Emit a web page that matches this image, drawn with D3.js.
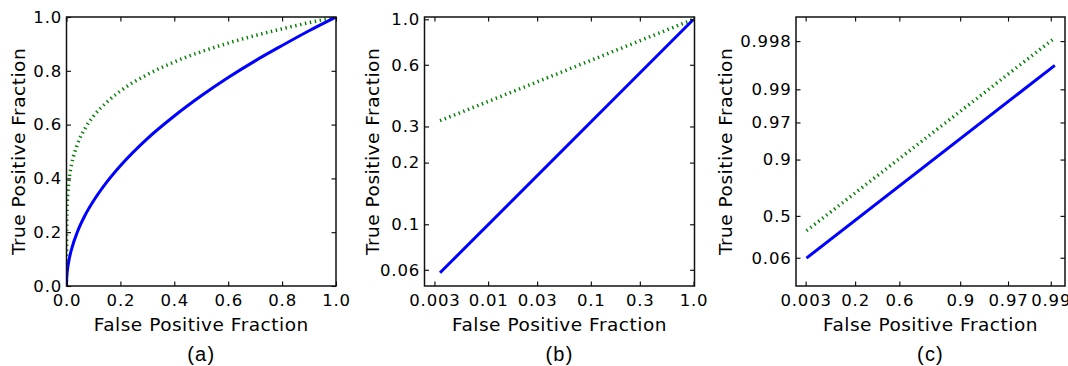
<!DOCTYPE html>
<html>
<head>
<meta charset="utf-8">
<script src="https://cdn.jsdelivr.net/npm/d3@7/dist/d3.min.js"></script>
<style>
  html, body { margin: 0; padding: 0; background: #fff; }
  svg { display: block; }
  .tick text { font-family: "DejaVu Sans", sans-serif; font-size: 16.5px; letter-spacing: 0.8px; fill: #000; }
  .axlabel { font-family: "DejaVu Sans", sans-serif; font-size: 18.5px; letter-spacing: 0.5px; fill: #000; }
  .panel-label { font-family: "Liberation Sans", Arial, sans-serif; font-size: 20px; letter-spacing: 1.2px; fill: #000; }
</style>
</head>
<body>
<svg id="chart" width="1068" height="366"></svg>
<script>
// ---------- data ----------
// Panel (a): linear ROC curves
const fpfA       = [0, 0.0005, 0.002, 0.005, 0.01, 0.02, 0.04, 0.07, 0.1, 0.15, 0.2, 0.3, 0.4, 0.5, 0.6, 0.7, 0.8, 0.9, 1.0];
const tpfBlueA   = [0, 0.022, 0.045, 0.071, 0.100, 0.141, 0.200, 0.265, 0.316, 0.387, 0.447, 0.548, 0.632, 0.707, 0.775, 0.837, 0.894, 0.949, 1.0];
const tpfGreenA  = [0, 0.218, 0.289, 0.347, 0.398, 0.457, 0.525, 0.588, 0.631, 0.684, 0.725, 0.786, 0.833, 0.871, 0.903, 0.931, 0.956, 0.979, 1.0];
const xTicksA = [0, 0.2, 0.4, 0.6, 0.8, 1.0];
const xTickLabelsA = ["0.0", "0.2", "0.4", "0.6", "0.8", "1.0"];
const yTicksA = [0, 0.2, 0.4, 0.6, 0.8, 1.0];
const yTickLabelsA = ["0.0", "0.2", "0.4", "0.6", "0.8", "1.0"];

// Panels (b) and (c): straight-line segments (end points)
const fpfLine      = [0.0034, 0.991];
const tpfBlueLine  = [0.058, 0.9955];
const tpfGreenLine = [0.32, 0.9982];

// Panel (b): log-log
const xDomainB = [0.0024, 1.022];
const yDomainB = [0.05, 1.026];
const xTicksB = [0.003, 0.01, 0.03, 0.1, 0.3, 1.0];
const xTickLabelsB = ["0.003", "0.01", "0.03", "0.1", "0.3", "1.0"];
const yTicksB = [0.06, 0.1, 0.2, 0.3, 0.6, 1.0];
const yTickLabelsB = ["0.06", "0.1", "0.2", "0.3", "0.6", "1.0"];

// Panel (c): -ln(-ln p) axes (domain in transformed units)
const xDomainC = [-2.01, 4.97];
const yDomainC = [-1.98, 7.02];
const xTicksC = [0.003, 0.2, 0.6, 0.9, 0.97, 0.99];
const xTickLabelsC = ["0.003", "0.2", "0.6", "0.9", "0.97", "0.99"];
const yTicksC = [0.06, 0.5, 0.9, 0.97, 0.99, 0.998];
const yTickLabelsC = ["0.06", "0.5", "0.9", "0.97", "0.99", "0.998"];

const panelLabels = ["(a)", "(b)", "(c)"];
const xTitle = "False Positive Fraction";
const yTitle = "True Positive Fraction";

// ---------- layout ----------
const svg = d3.select("#chart");
const plotTop = 17, plotBottom = 286;
const panels = [
  { x0: 66.5, x1: 336 },
  { x0: 424.5, x1: 694.5 },
  { x0: 796, x1: 1065 }
];
const blue = "#0000ff", green = "#008000";
const dotted = "1.4 3.6";
const tr = p => -Math.log(-Math.log(p)); // transform for panel (c)

function drawPanel(i, xs, ys, xT, xL, yT, yL, seriesList, yLabelX) {
  const P = panels[i];
  const g = svg.append("g");
  const clipId = "clip" + i;
  svg.append("clipPath").attr("id", clipId).append("rect")
    .attr("x", P.x0).attr("y", plotTop).attr("width", P.x1 - P.x0).attr("height", plotBottom - plotTop);

  // series
  const lines = g.append("g").attr("clip-path", `url(#${clipId})`);
  seriesList.forEach(s => {
    const pts = s.x.map((v, k) => [v, s.y[k]]);
    const line = d3.line().x(d => xs.fn(d[0])).y(d => ys.fn(d[1])).curve(s.curve || d3.curveLinear);
    lines.append("path").attr("d", line(pts))
      .attr("fill", "none").attr("stroke", s.color).attr("stroke-width", s.width)
      .attr("stroke-dasharray", s.dash || null).attr("stroke-linecap", "butt");
  });

  // axes (ticks inward, on all four sides)
  const mk = (axisFn, sc, vals, labs, showLabels) =>
    axisFn(sc.scale).tickValues(vals.map(sc.pre)).tickSizeInner(-4.5).tickSizeOuter(0)
      .tickFormat((d, k) => showLabels ? labs[k] : "");
  const bottomAx = g.append("g").attr("transform", `translate(0,${plotBottom})`)
    .call(mk(d3.axisBottom, xs, xT, xL, true).tickPadding(8));
  const topAx = g.append("g").attr("transform", `translate(0,${plotTop})`)
    .call(mk(d3.axisTop, xs, xT, xL, false));
  const leftAx = g.append("g").attr("transform", `translate(${P.x0},0)`)
    .call(mk(d3.axisLeft, ys, yT, yL, true).tickPadding(4.5));
  const rightAx = g.append("g").attr("transform", `translate(${P.x1},0)`)
    .call(mk(d3.axisRight, ys, yT, yL, false));
  [bottomAx, topAx, leftAx, rightAx].forEach(a => {
    a.select(".domain").remove();
    a.selectAll(".tick line").attr("stroke", "#000").attr("stroke-width", 1.1);
    a.attr("font-family", null).attr("font-size", null);
  });

  // frame
  g.append("rect").attr("x", P.x0).attr("y", plotTop)
    .attr("width", P.x1 - P.x0).attr("height", plotBottom - plotTop)
    .attr("fill", "none").attr("stroke", "#111").attr("stroke-width", 1.5);

  const cx = (P.x0 + P.x1) / 2;
  g.append("text").attr("class", "axlabel").attr("x", cx).attr("y", 331)
    .attr("text-anchor", "middle").text(xTitle);
  g.append("text").attr("class", "axlabel")
    .attr("transform", `translate(${yLabelX},${(plotTop + plotBottom) / 2}) rotate(-90)`)
    .attr("text-anchor", "middle").text(yTitle);
  g.append("text").attr("class", "panel-label").attr("x", cx).attr("y", 361)
    .attr("text-anchor", "middle").text(panelLabels[i]);
}

// Panel (a)
{
  const P = panels[0];
  const x = d3.scaleLinear().domain([0, 1]).range([P.x0, P.x1]);
  const y = d3.scaleLinear().domain([0, 1]).range([plotBottom, plotTop]);
  drawPanel(0,
    { scale: x, fn: x, pre: v => v },
    { scale: y, fn: y, pre: v => v },
    xTicksA, xTickLabelsA, yTicksA, yTickLabelsA,
    [
      { x: fpfA, y: tpfGreenA, color: green, width: 3.5, dash: dotted, curve: d3.curveMonotoneX },
      { x: fpfA, y: tpfBlueA, color: blue, width: 3, curve: d3.curveMonotoneX }
    ], 24.5);
}
// Panel (b)
{
  const P = panels[1];
  const x = d3.scaleLog().domain(xDomainB).range([P.x0, P.x1]);
  const y = d3.scaleLog().domain(yDomainB).range([plotBottom, plotTop]);
  drawPanel(1,
    { scale: x, fn: x, pre: v => v },
    { scale: y, fn: y, pre: v => v },
    xTicksB, xTickLabelsB, yTicksB, yTickLabelsB,
    [
      { x: fpfLine, y: tpfGreenLine, color: green, width: 3.5, dash: dotted },
      { x: fpfLine, y: tpfBlueLine, color: blue, width: 3 }
    ], 379);
}
// Panel (c)
{
  const P = panels[2];
  const x = d3.scaleLinear().domain(xDomainC).range([P.x0, P.x1]);
  const y = d3.scaleLinear().domain(yDomainC).range([plotBottom, plotTop]);
  drawPanel(2,
    { scale: x, fn: v => x(tr(v)), pre: tr },
    { scale: y, fn: v => y(tr(v)), pre: tr },
    xTicksC, xTickLabelsC, yTicksC, yTickLabelsC,
    [
      { x: fpfLine, y: tpfGreenLine, color: green, width: 3.5, dash: dotted },
      { x: fpfLine, y: tpfBlueLine, color: blue, width: 3 }
    ], 732);
}
</script>
</body>
</html>
